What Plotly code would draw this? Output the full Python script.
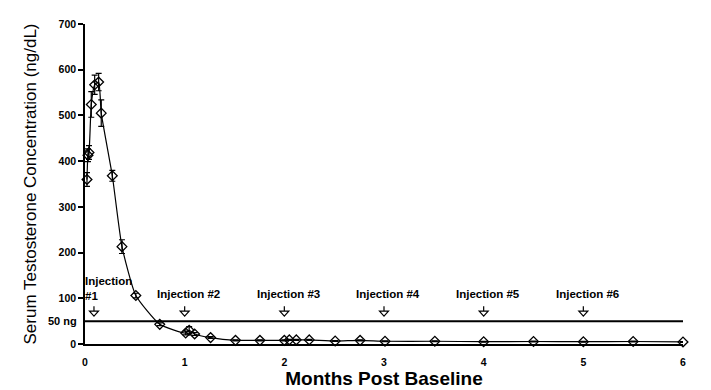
import plotly.graph_objects as go

months = [0.02, 0.03, 0.04, 0.063, 0.097, 0.137, 0.163, 0.274, 0.371, 0.51, 0.75,
          1.01, 1.045, 1.10, 1.26, 1.51, 1.755, 2.0, 2.05, 2.12, 2.25, 2.51, 2.76,
          3.01, 3.51, 4.0, 4.5, 5.0, 5.5, 6.0]
testosterone = [360, 413, 419, 524, 567, 573, 505, 368, 213, 106, 43,
                24, 30, 22, 14, 8, 8, 8, 9, 9, 9, 6.5, 8,
                6, 6, 5, 5.5, 5, 5.5, 4.5]
sem = [15, 14, 15, 28, 21, 19, 29, 12, 15, 5, 3,
       4, 8, 3, 2, 1, 1, 1, 1, 1, 1, 1, 1,
       1, 1, 1, 1, 1, 1, 1]

threshold = 50
injection_months = [0.09, 1, 2, 3, 4, 5]
injection_labels = ["Injection<br>#1", "Injection #2", "Injection #3",
                    "Injection #4", "Injection #5", "Injection #6"]
y_ticks = [0, 100, 200, 300, 400, 500, 600, 700]
x_ticks = [0, 1, 2, 3, 4, 5, 6]

FONT = "Liberation Sans"

fig = go.Figure()

fig.add_trace(go.Scatter(
    x=[0, 6], y=[threshold, threshold], mode="lines",
    line=dict(color="black", width=2), hoverinfo="skip", showlegend=False))

fig.add_trace(go.Scatter(
    x=months, y=testosterone, mode="lines+markers",
    line=dict(color="black", width=1.2, shape="spline", smoothing=0.5),
    marker=dict(symbol="diamond-open", size=7.5, color="black", line=dict(width=1.3)),
    error_y=dict(type="data", array=sem, visible=True, color="black",
                 thickness=1.2, width=3),
    cliponaxis=False, showlegend=False))

shapes = []
annotations = []
for xm, lab in zip(injection_months, injection_labels):
    shapes.append(dict(type="path", xref="x", yref="y", xsizemode="pixel", ysizemode="pixel",
                       xanchor=xm, yanchor=threshold,
                       path="M 0 15 L 0 10", line=dict(color="black", width=1.2)))
    shapes.append(dict(type="path", xref="x", yref="y", xsizemode="pixel", ysizemode="pixel",
                       xanchor=xm, yanchor=threshold,
                       path="M -4.5 10 L 4.5 10 L 0 5 Z", fillcolor="white",
                       line=dict(color="black", width=1.2)))
    if "<br>" in lab:
        annotations.append(dict(x=xm, y=threshold, xref="x", yref="y", text="<b>" + lab + "</b>",
                                showarrow=False, xanchor="left", yanchor="bottom", align="left",
                                xshift=-11, yshift=17, font=dict(family=FONT, size=11.5, color="black")))
    else:
        annotations.append(dict(x=xm, y=threshold, xref="x", yref="y", text="<b>" + lab + "</b>",
                                showarrow=False, xanchor="center", yanchor="bottom",
                                xshift=4, yshift=19, font=dict(family=FONT, size=11.5, color="black")))

annotations.append(dict(x=0, y=threshold, xref="paper", yref="y", text="<b>50 ng</b>",
                        showarrow=False, xanchor="right", yanchor="middle", xshift=-6,
                        font=dict(family=FONT, size=11, color="black")))

fig.update_layout(
    width=711, height=390,
    margin=dict(l=77, r=36, t=16, b=54),
    paper_bgcolor="white", plot_bgcolor="white",
    font=dict(family=FONT, color="black"),
    shapes=shapes, annotations=annotations,
    xaxis=dict(range=[0, 6], tickvals=x_ticks, ticktext=["<b>%d</b>" % v for v in x_ticks],
               showgrid=False, zeroline=False, showline=True, linecolor="black", linewidth=1.5,
               ticks="", ticklabelstandoff=8, tickfont=dict(family=FONT, size=10.5),
               automargin=False,
               title=dict(text="<b>Months Post Baseline</b>", font=dict(family=FONT, size=19),
                          standoff=1)),
    yaxis=dict(range=[0, 700], tickvals=y_ticks, ticktext=["<b>%d</b>" % v for v in y_ticks],
               showgrid=False, zeroline=False, showline=True, linecolor="black", linewidth=1.5,
               ticks="outside", ticklen=5, tickwidth=1.5, tickcolor="black",
               tickfont=dict(family=FONT, size=10.5), automargin=False,
               title=dict(text="Serum Testosterone Concentration (ng/dL)",
                          font=dict(family=FONT, size=17), standoff=18)),
)

fig.write_html("out.html")
